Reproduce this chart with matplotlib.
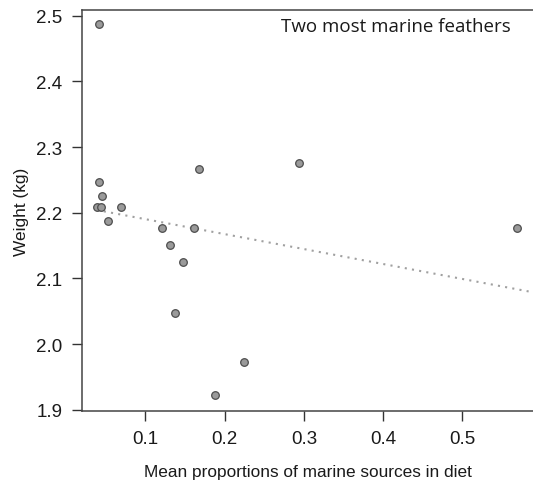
import numpy as np
import matplotlib
matplotlib.use("Agg")
import matplotlib.pyplot as plt

# Data
x_vals = [0.042, 0.042, 0.0458, 0.0387, 0.0441, 0.0526, 0.070, 0.121, 0.1315,
          0.148, 0.138, 0.168, 0.161, 0.1875, 0.225, 0.294, 0.569]
y_vals = [2.487, 2.246, 2.225, 2.208, 2.208, 2.187, 2.208, 2.176, 2.151,
          2.125, 2.048, 2.266, 2.176, 1.922, 1.972, 2.275, 2.176]
x_ticks = [0.1, 0.2, 0.3, 0.4, 0.5]
y_ticks = [1.9, 2.0, 2.1, 2.2, 2.3, 2.4, 2.5]
annotation = "Two most marine feathers"
x_label = "Mean proportions of marine sources in diet"
y_label = "Weight (kg)"

fig = plt.figure(figsize=(5.33, 4.89), dpi=100)
ax = fig.add_axes([82/533, 1-412/489, 1-82/533, (412-11)/489])

x = np.array(x_vals)
y = np.array(y_vals)
slope, intercept = np.polyfit(x, y, 1)
xl = np.array([x.min(), 0.6])
ax.plot(xl, intercept + slope*xl, linestyle=(0, (1, 2.5)), color="#a0a0a0", lw=1.5, zorder=1)

ax.scatter(x, y, s=30, facecolor="#9a9a9a", edgecolor="#4d4d4d", linewidths=0.9, zorder=2)

ax.set_xlim(0.0202, 0.589)
ax.set_ylim(1.898, 2.5087)
ax.set_xticks(x_ticks)
ax.set_xticklabels([f"{t:.1f}" for t in x_ticks])
ax.set_yticks(y_ticks)
ax.set_yticklabels([f"{t:.1f}" for t in y_ticks])

font = "Liberation Sans"
ax.tick_params(direction="out", length=7, width=1, colors="#333333", labelcolor="#1a1a1a",
               labelsize=13.5)
for lab in ax.get_xticklabels() + ax.get_yticklabels():
    lab.set_family(font)
ax.tick_params(axis="x", pad=7)
ax.tick_params(axis="y", pad=7)
for s in ax.spines.values():
    s.set_color("#444444")
    s.set_linewidth(1.1)
ax.spines["right"].set_visible(False)

ax.set_xlabel(x_label, family=font, fontsize=12.4, color="#1a1a1a", labelpad=12)
ax.set_ylabel(y_label, family=font, fontsize=12.4, color="#1a1a1a", labelpad=5)

ax.text(0.416, 2.484, annotation, family="Open Sans", fontsize=13.5, color="#1a1a1a",
        ha="center", va="center")

fig.savefig("out.png", dpi=100)
